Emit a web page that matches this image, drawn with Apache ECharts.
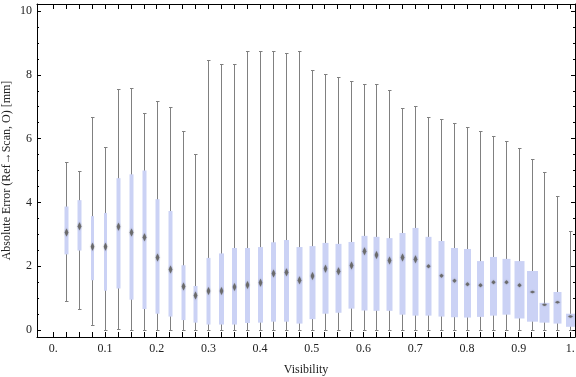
<!DOCTYPE html>
<html>
<head>
<meta charset="utf-8">
<script src="https://cdn.jsdelivr.net/npm/echarts@6/dist/echarts.min.js"></script>
<style>
html, body { margin: 0; padding: 0; background: #fff; }
#main { width: 576px; height: 377px; }
</style>
</head>
<body>
<div id="main"></div>
<script>
// visibility bins (box centres)
var visibility = [0.025, 0.05, 0.075, 0.1, 0.125, 0.15, 0.175, 0.2, 0.225, 0.25,
  0.275, 0.3, 0.325, 0.35, 0.375, 0.4, 0.425, 0.45, 0.475, 0.5,
  0.525, 0.55, 0.575, 0.6, 0.625, 0.65, 0.675, 0.7, 0.725, 0.75,
  0.775, 0.8, 0.825, 0.85, 0.875, 0.9, 0.925, 0.95, 0.975, 1.0];
var whiskerLow = [0.90, 0.65, 0.16, 0, 0.02, 0, 0, 0, 0, 0,
  0, 0, 0, 0, 0, 0, 0, 0, 0, 0,
  0, 0, 0, 0, 0, 0, 0, 0, 0, 0,
  0, 0, 0, 0, 0, 0, 0, 0, 0, 0];
var quart1 = [2.37, 2.49, 1.56, 1.23, 1.30, 0.95, 0.66, 0.51, 0.42, 0.31,
  0.23, 0.17, 0.17, 0.17, 0.22, 0.23, 0.26, 0.26, 0.20, 0.34,
  0.51, 0.54, 0.67, 0.61, 0.60, 0.60, 0.48, 0.45, 0.45, 0.42,
  0.40, 0.39, 0.41, 0.45, 0.48, 0.36, 0.26, 0.23, 0.20, 0.10];
var median = [3.06, 3.25, 2.61, 2.61, 3.24, 3.06, 2.91, 2.27, 1.90, 1.36,
  1.08, 1.22, 1.22, 1.35, 1.41, 1.48, 1.77, 1.81, 1.56, 1.69,
  1.92, 1.84, 2.02, 2.47, 2.35, 2.18, 2.27, 2.22, 2.00, 1.70,
  1.54, 1.43, 1.40, 1.50, 1.50, 1.40, 1.19, 0.79, 0.87, 0.42];
var quart3 = [3.87, 4.07, 3.57, 3.67, 4.76, 4.88, 5.00, 4.10, 3.73, 2.03,
  1.38, 2.26, 2.40, 2.57, 2.57, 2.60, 2.75, 2.82, 2.60, 2.63,
  2.73, 2.70, 2.76, 2.95, 2.92, 2.88, 3.04, 3.20, 2.92, 2.79,
  2.57, 2.54, 2.16, 2.29, 2.23, 2.16, 1.85, 0.85, 1.19, 0.51];
var whiskerHigh = [5.26, 4.97, 6.67, 5.73, 7.55, 7.58, 6.79, 7.17, 6.98, 6.23,
  5.51, 8.45, 8.33, 8.33, 8.74, 8.74, 8.74, 8.67, 8.74, 8.14,
  8.02, 7.92, 7.80, 7.70, 7.70, 7.52, 6.95, 7.01, 6.67, 6.60,
  6.48, 6.35, 6.23, 6.07, 5.92, 5.70, 5.35, 4.94, 4.19, 3.10];

var xLabelTicks = [0, 0.1, 0.2, 0.3, 0.4, 0.5, 0.6, 0.7, 0.8, 0.9, 1];
var yLabelTicks = [0, 2, 4, 6, 8, 10];

// box widths in px (style, drawn wider where the chart had more samples)
var boxWidths = [4, 4, 3, 3, 4, 4, 4, 4, 4, 4, 4, 4, 5, 5, 5, 5, 5, 5, 6, 6,
  6, 6, 6, 6, 6, 6, 6, 6, 6, 6, 7, 7, 7, 7, 8, 10, 11, 10, 8, 9];

var xMinor = [];
for (var i = 0; i <= 40; i++) xMinor.push(Math.round(i * 25) / 1000);
var yMinor = [];
for (var j = 0; j <= 20; j++) { if (j % 4 !== 0) yMinor.push(j / 2); }

var boxData = [];
for (var k = 0; k < visibility.length; k++) {
  boxData.push([visibility[k], whiskerLow[k], quart1[k], median[k], quart3[k], whiskerHigh[k]]);
}

var FONT = "Liberation Serif";
var BOX = "#cbd2f5";
var WHISK = "#808080";

function renderBox(params, api) {
  var x = api.value(0);
  var pLo = api.coord([x, api.value(1)]);
  var pQ1 = api.coord([x, api.value(2)]);
  var pMd = api.coord([x, api.value(3)]);
  var pQ3 = api.coord([x, api.value(4)]);
  var pHi = api.coord([x, api.value(5)]);
  var cx = Math.round(pLo[0]) + 0.5;
  var w = boxWidths[params.dataIndex];
  var idx = params.dataIndex;
  var mw, mh;
  if (idx < 28) { mw = 3.5; mh = 8; }
  else if (idx < 36) { mw = 4; mh = 4; }
  else { mw = 5; mh = 2.5; }
  var my = pMd[1];
  return {
    type: "group",
    children: [
      { type: "line", shape: { x1: cx, y1: pLo[1], x2: cx, y2: pHi[1] },
        style: { stroke: WHISK, lineWidth: 1 } },
      { type: "line", shape: { x1: cx - 1.5, y1: Math.round(pLo[1]) + 0.5, x2: cx + 2, y2: Math.round(pLo[1]) + 0.5 },
        style: { stroke: WHISK, lineWidth: 1 } },
      { type: "line", shape: { x1: cx - 1.5, y1: Math.round(pHi[1]) + 0.5, x2: cx + 2, y2: Math.round(pHi[1]) + 0.5 },
        style: { stroke: WHISK, lineWidth: 1 } },
      { type: "rect", shape: { x: cx - w / 2, y: pQ3[1], width: w, height: pQ1[1] - pQ3[1] },
        style: { fill: BOX } },
      { type: "polygon", shape: { points: [[cx, my - mh / 2], [cx + mw / 2, my], [cx, my + mh / 2], [cx - mw / 2, my]] },
        style: { fill: "#6b6b6b", shadowBlur: 1.5, shadowColor: "rgba(80,80,80,0.8)" } }
    ]
  };
}

var frameLine = { show: true, onZero: false, lineStyle: { color: "#000", width: 1 } };
var noLine = { show: false, onZero: false };

var chart = echarts.init(document.getElementById("main"));
chart.setOption({
  animation: false,
  backgroundColor: "#fff",
  grid: { left: 37, right: 1, top: 4, bottom: 40, containLabel: false, outerBoundsMode: "none" },
  xAxis: [
    {
      type: "value", position: "bottom", min: -0.0315, max: 1.009,
      name: "Visibility", nameLocation: "middle", nameGap: 27,
      nameTextStyle: { fontFamily: FONT, fontSize: 12, color: "#222" },
      axisLine: frameLine,
      axisTick: { show: true, inside: true, length: 5, customValues: xMinor, lineStyle: { color: "#000" } },
      axisLabel: {
        customValues: xLabelTicks, margin: 6,
        fontFamily: FONT, fontSize: 12, color: "#222",
        formatter: function (v) {
          if (Math.abs(v) < 1e-9) return "0.";
          if (Math.abs(v - 1) < 1e-9) return "1.";
          return v.toFixed(1);
        }
      },
      splitLine: { show: false }
    },
    {
      type: "value", position: "top", min: -0.0315, max: 1.009,
      axisLine: frameLine,
      axisTick: { show: true, inside: true, length: 5, customValues: xMinor, lineStyle: { color: "#000" } },
      axisLabel: { show: false },
      splitLine: { show: false }
    }
  ],
  yAxis: [
    {
      type: "value", position: "left", min: -0.22, max: 10.22,
      name: "Absolute Error (Ref\u2192Scan, O) [mm]", nameLocation: "middle", nameGap: 24,
      nameMoveOverlap: false,
      nameTextStyle: { fontFamily: FONT, fontSize: 12, color: "#222" },
      axisLine: frameLine,
      axisTick: { show: true, inside: true, length: 4, customValues: yLabelTicks, lineStyle: { color: "#000" } },
      axisLabel: { customValues: yLabelTicks, margin: 5, fontFamily: FONT, fontSize: 12, color: "#222" },
      splitLine: { show: false }
    },
    {
      type: "value", position: "left", min: -0.22, max: 10.22,
      axisLine: noLine,
      axisTick: { show: true, inside: true, length: 2, customValues: yMinor, lineStyle: { color: "#000" } },
      axisLabel: { show: false },
      splitLine: { show: false }
    },
    {
      type: "value", position: "right", min: -0.22, max: 10.22,
      axisLine: frameLine,
      axisTick: { show: true, inside: true, length: 4, customValues: yLabelTicks, lineStyle: { color: "#000" } },
      axisLabel: { show: false },
      splitLine: { show: false }
    },
    {
      type: "value", position: "right", min: -0.22, max: 10.22,
      axisLine: noLine,
      axisTick: { show: true, inside: true, length: 2, customValues: yMinor, lineStyle: { color: "#000" } },
      axisLabel: { show: false },
      splitLine: { show: false }
    }
  ],
  series: [
    {
      type: "custom",
      xAxisIndex: 0,
      yAxisIndex: 0,
      clip: false,
      renderItem: renderBox,
      encode: { x: 0, y: [1, 2, 3, 4, 5] },
      data: boxData
    }
  ]
});
</script>
</body>
</html>
